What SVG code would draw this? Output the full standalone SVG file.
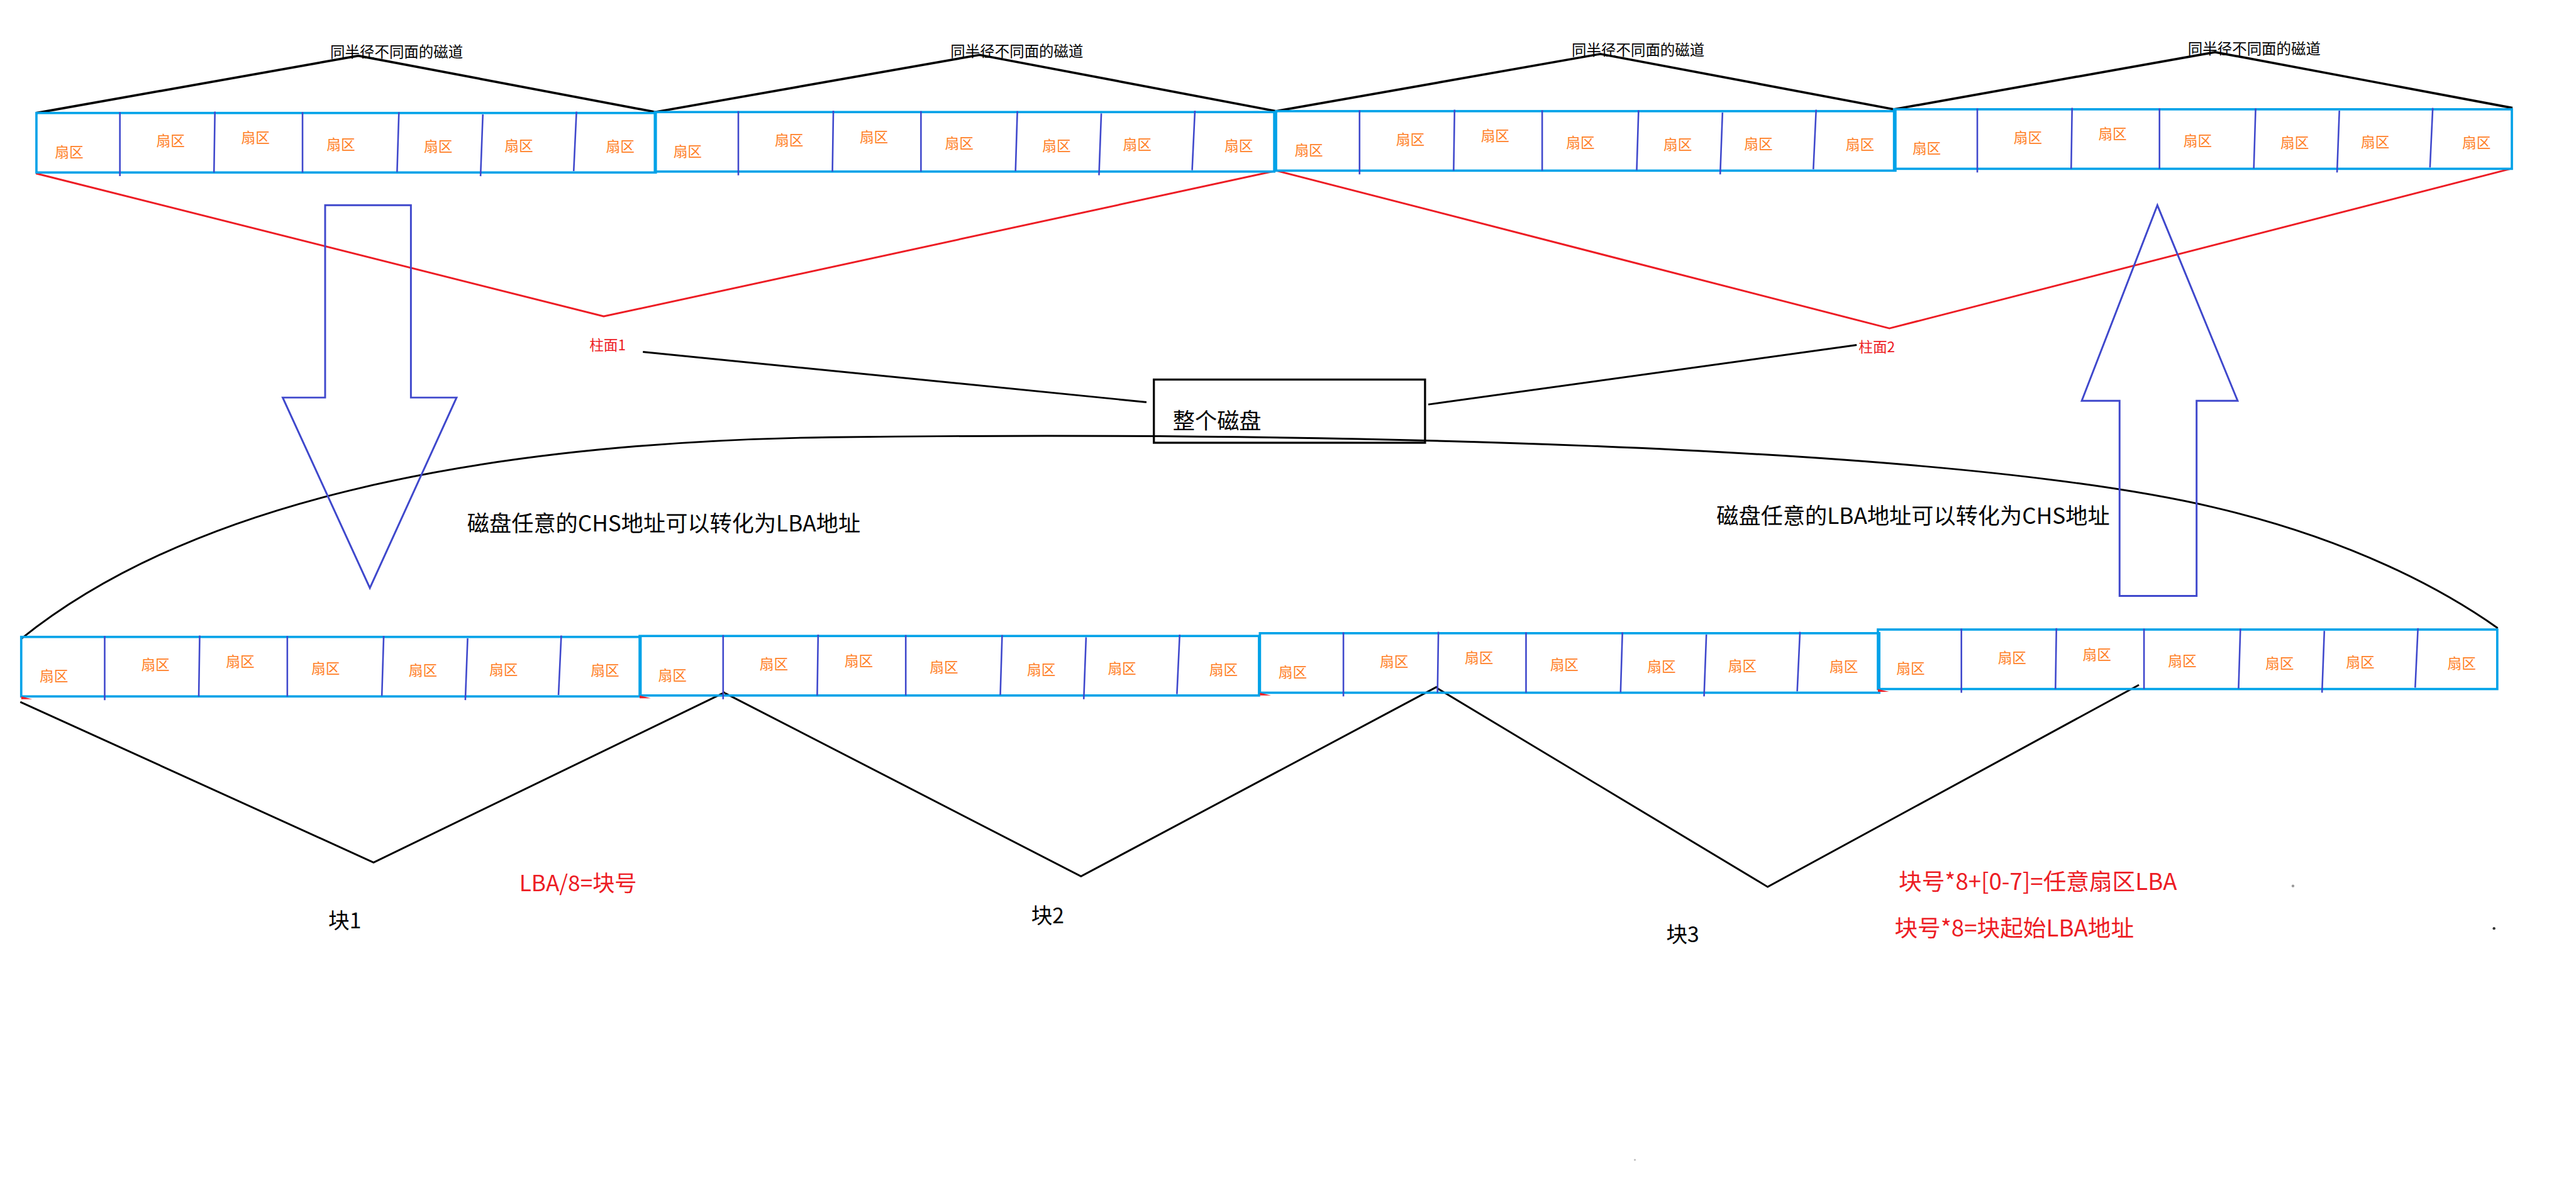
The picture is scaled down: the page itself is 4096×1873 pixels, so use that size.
<svg xmlns="http://www.w3.org/2000/svg" xmlns:xlink="http://www.w3.org/1999/xlink" width="4096" height="1873" viewBox="0 0 4096 1873">
<style>
.trk{fill:none;stroke:#00A2E8;stroke-width:5}
.div{fill:none;stroke:#3F48CC;stroke-width:3.5}
.sec{font-family:"Noto Sans CJK SC",sans-serif;font-size:31px;fill:#FF7F27;text-anchor:middle}
.blk{fill:none;stroke:#000;stroke-width:5}
.thin{fill:none;stroke:#000;stroke-width:4}
.red{fill:none;stroke:#ED1C24;stroke-width:4}
.arr{fill:none;stroke:#3F48CC;stroke-width:4}
.t{font-family:"Noto Sans CJK SC",sans-serif;fill:#000}
.rt{font-family:"Noto Sans CJK SC",sans-serif;fill:#ED1C24}
.lbl{font-family:"Noto Sans CJK SC",sans-serif;font-size:32px;fill:#000;text-anchor:middle}
.flag{fill:#ED1C24}
</style>
<defs>
<g id="track">
<rect x="0" y="0" width="1343" height="129" class="trk"/>
<path class="div" d="M181,-2V137 M387,-3L385,129 M577,-2V129 M786,-2L782,128 M968,3L963,137 M1171,-3L1165,126"/>
<text class="sec" x="71" y="96">扇区</text>
<text class="sec" x="291" y="72">扇区</text>
<text class="sec" x="475" y="65">扇区</text>
<text class="sec" x="660" y="79">扇区</text>
<text class="sec" x="871" y="84">扇区</text>
<text class="sec" x="1046" y="82">扇区</text>
<text class="sec" x="1266" y="84">扇区</text>
</g>
</defs>
<rect x="0" y="0" width="4096" height="1873" fill="#fff"/>
<g transform="scale(0.7333)">
<g id="connectors">
<path class="blk" d="M79,245 L777,121 L1422,243"/>
<path class="blk" d="M1420,243 L2124,119 L2767,241"/>
<path class="blk" d="M2767,241 L3470,117 L4106,237"/>
<path class="blk" d="M4107,237 L4803,113 L5448,234"/>
<path class="red" d="M78,376 L1309,686 L2768,370 L4097,712 L5448,365"/>
<path class="thin" d="M1394,763 L2486,872"/>
<path class="thin" d="M3097,877 L4026,748"/>
<path class="thin" d="M46,1385 C400,1100 1000,960 1800,948 C2800,936 4200,960 4800,1100 C5100,1170 5300,1280 5416,1362"/>
<path class="thin" d="M44,1522 L810,1870 L1572,1501"/>
<path class="thin" d="M1572,1503 L2344,1900 L3116,1489"/>
<path class="thin" d="M3116,1492 L3833,1923 L4638,1485"/>
</g>
<g id="track-top-1"><use xlink:href="#track" transform="translate(79,245)"/><text class="lbl" x="860" y="124">同半径不同面的磁道</text></g>
<g id="track-top-2"><use xlink:href="#track" transform="translate(1420,243)"/><text class="lbl" x="2205" y="123">同半径不同面的磁道</text></g>
<g id="track-top-3"><use xlink:href="#track" transform="translate(2767,241)"/><text class="lbl" x="3552" y="120">同半径不同面的磁道</text></g>
<g id="track-top-4"><use xlink:href="#track" transform="translate(4107,237) scale(0.9975,1)"/><text class="lbl" x="4888" y="117">同半径不同面的磁道</text></g>
<g id="track-bottom-1"><use xlink:href="#track" transform="translate(46,1381)"/><polygon class="flag" points="46,1510 70,1516 46,1516"/></g>
<g id="track-bottom-2"><use xlink:href="#track" transform="translate(1387,1379)"/><polygon class="flag" points="1387,1508 1411,1514 1387,1514"/></g>
<g id="track-bottom-3"><use xlink:href="#track" transform="translate(2732,1373)"/><polygon class="flag" points="2732,1502 2756,1508 2732,1508"/></g>
<g id="track-bottom-4"><use xlink:href="#track" transform="translate(4072,1365)"/><polygon class="flag" points="4072,1494 4096,1500 4072,1500"/></g>
<g id="cyl1"><text class="rt" x="1278" y="759" font-size="31">柱面1</text></g>
<g id="cyl2"><text class="rt" x="4030" y="764" font-size="31">柱面2</text></g>
<g id="disk"><rect x="2502" y="823" width="588" height="137" fill="none" stroke="#000" stroke-width="4.5"/><text class="t" x="2543" y="930" font-size="48">整个磁盘</text></g>
<g id="arrow-down"><polygon class="arr" points="705,445 891,445 891,862 990,862 802,1275 613,862 705,862"/></g>
<g id="arrow-up"><polygon class="arr" points="4678,445 4852,869 4763,869 4763,1292 4596,1292 4596,869 4514,869"/></g>
<g id="note-chs"><text class="t" x="1013" y="1153" font-size="48">磁盘任意的CHS地址可以转化为LBA地址</text></g>
<g id="note-lba"><text class="t" x="3722" y="1136" font-size="48">磁盘任意的LBA地址可以转化为CHS地址</text></g>
<g id="block1"><text class="t" x="712" y="2013" font-size="46">块1</text></g>
<g id="block2"><text class="t" x="2236" y="2002" font-size="46">块2</text></g>
<g id="block3"><text class="t" x="3613" y="2043" font-size="46">块3</text></g>
<g id="formula1"><text class="rt" x="1126" y="1933" font-size="48">LBA/8=块号</text></g>
<g id="formula2"><text class="rt" x="4117" y="1930" font-size="50">块号*8+[0-7]=任意扇区LBA</text></g>
<g id="formula3"><text class="rt" x="4108" y="2030" font-size="50">块号*8=块起始LBA地址</text></g>
<g id="specks"><circle cx="4972" cy="1921" r="3" fill="#999"/><circle cx="5408" cy="2013" r="3" fill="#333"/><circle cx="3545" cy="2515" r="2" fill="#bbb"/></g>
</g>
</svg>
